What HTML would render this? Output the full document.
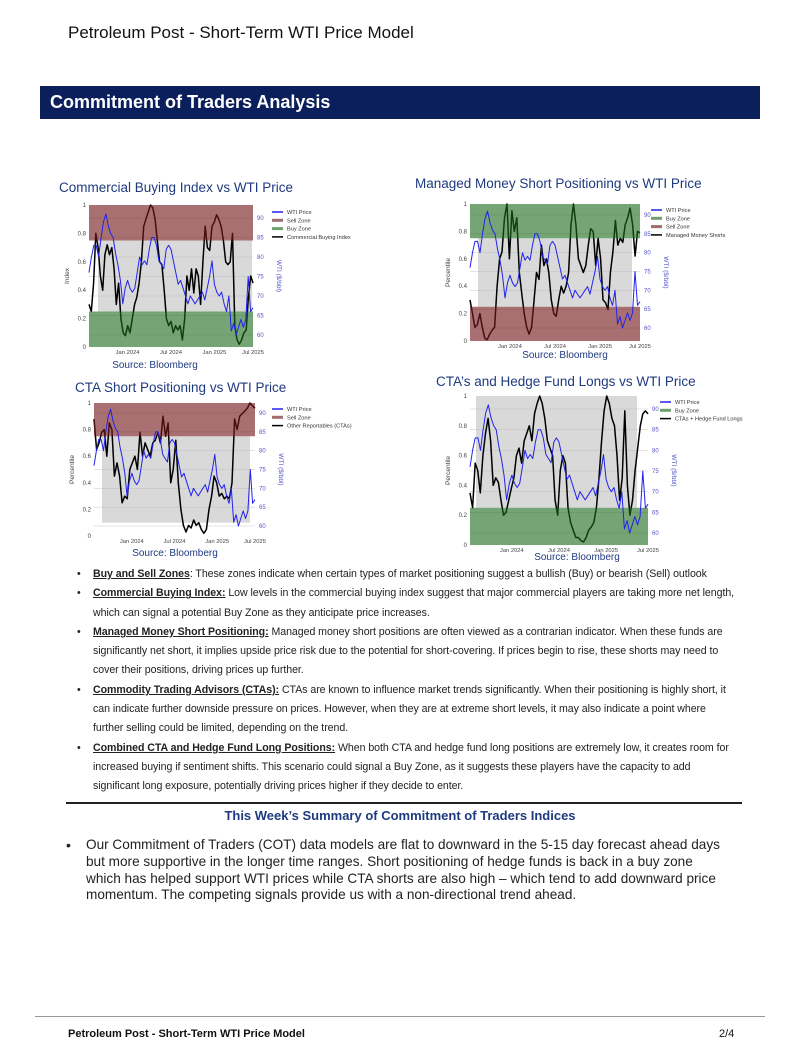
<!DOCTYPE html>
<html><head><meta charset="utf-8">
<style>
body{margin:0;background:#fff;}
#page{position:relative;width:800px;height:1064px;overflow:hidden;font-family:"Liberation Sans",sans-serif;color:#222;}
.abs{position:absolute;}
.ctitle{position:absolute;font-size:13.5px;color:#1f3a80;white-space:nowrap;}
.bul{position:absolute;left:77px;width:662px;font-family:"Liberation Sans Narrow","Liberation Sans",sans-serif;font-size:10.6px;line-height:19.3px;color:#222;letter-spacing:-0.05px;}
.bul ul{margin:0;padding:0;list-style:none;}
.bul li{margin:0 0 0 16px;padding-left:0;position:relative;}
.bul li:before{content:"•";position:absolute;left:-16px;}
.bul b{text-decoration:underline;}
</style></head>
<body>
<div id="page">
  <div class="abs" style="left:68px;top:23px;font-size:17px;color:#111;">Petroleum Post - Short-Term WTI Price Model</div>
  <div class="abs" style="left:40px;top:86px;width:720px;height:33px;background:#0a1f5c;"></div>
  <div class="abs" style="left:50px;top:92px;font-size:18px;font-weight:bold;color:#fff;">Commitment of Traders Analysis</div>

  <div class="ctitle" style="left:59px;top:180px;">Commercial Buying Index vs WTI Price</div>
  <div class="ctitle" style="left:415px;top:176px;">Managed Money Short Positioning vs WTI Price</div>
  <div class="ctitle" style="left:75px;top:380px;">CTA Short Positioning vs WTI Price</div>
  <div class="ctitle" style="left:436px;top:374px;">CTA’s and Hedge Fund Longs vs WTI Price</div>

  <svg id="charts" class="abs" style="left:0;top:0" width="800" height="570"></svg>

  <div class="bul" style="top:565px;">
    <ul>
      <li><b>Buy and Sell Zones</b>: These zones indicate when certain types of market positioning suggest a bullish (Buy) or bearish (Sell) outlook</li>
      <li><b>Commercial Buying Index:</b> Low levels in the commercial buying index suggest that major commercial players are taking more net length, which can signal a potential Buy Zone as they anticipate price increases.</li>
      <li><b>Managed Money Short Positioning:</b> Managed money short positions are often viewed as a contrarian indicator. When these funds are significantly net short, it implies upside price risk due to the potential for short-covering. If prices begin to rise, these shorts may need to cover their positions, driving prices up further.</li>
      <li><b>Commodity Trading Advisors (CTAs):</b> CTAs are known to influence market trends significantly. When their positioning is highly short, it can indicate further downside pressure on prices. However, when they are at extreme short levels, it may also indicate a point where further selling could be limited, depending on the trend.</li>
      <li><b>Combined CTA and Hedge Fund Long Positions:</b> When both CTA and hedge fund long positions are extremely low, it creates room for increased buying if sentiment shifts. This scenario could signal a Buy Zone, as it suggests these players have the capacity to add significant long exposure, potentially driving prices higher if they decide to enter.</li>
    </ul>
  </div>

  <div class="abs" style="left:66px;top:802px;width:676px;height:2px;background:#222;"></div>
  <div class="abs" style="left:0;width:800px;text-align:center;top:808px;font-size:13px;font-weight:bold;color:#1f3a80;">This Week’s Summary of Commitment of Traders Indices</div>
  <div class="abs" style="left:66px;top:837px;font-size:14px;">•</div>
  <div class="abs" style="left:86px;top:837px;width:636px;font-size:13.6px;line-height:16.8px;color:#222;">Our Commitment of Traders (COT) data models are flat to downward in the 5-15 day forecast ahead days but more supportive in the longer time ranges. Short positioning of hedge funds is back in a buy zone which has helped support WTI prices while CTA shorts are also high – which tend to add downward price momentum. The competing signals provide us with a non-directional trend ahead.</div>

  <div class="abs" style="left:35px;top:1016px;width:730px;height:1px;background:#999;"></div>
  <div class="abs" style="left:68px;top:1028px;font-size:11px;font-weight:bold;color:#111;">Petroleum Post - Short-Term WTI Price Model</div>
  <div class="abs" style="left:719px;top:1028px;font-size:11px;color:#111;">2/4</div>
</div>
<script>
const wtiPrice = [76,80,83,83,80,85,89,91,88,86,85,81,78,74,68,72,74,72,71,72,76,80,78,79,78,82,85,85,83,79,78,77,82,83,82,79,76,73,74,72,70,68,70,69,68,69,70,71,69,72,75,79,73,71,70,71,68,66,70,61,63,60,62,64,62,64,75,66,67];
const commercialIndex = [0.3,0.25,0.45,0.8,0.7,0.5,0.4,0.65,0.72,0.65,0.7,0.55,0.3,0.45,0.2,0.1,0.08,0.15,0.1,0.2,0.3,0.35,0.45,0.6,0.85,0.9,0.95,1.0,0.98,0.9,0.75,0.6,0.58,0.4,0.2,0.15,0.18,0.1,0.15,0.12,0.15,0.05,0.2,0.5,0.4,0.55,0.38,0.55,0.5,0.3,0.6,0.85,0.7,0.68,0.85,0.88,0.93,0.9,0.85,0.75,0.6,0.58,0.6,0.8,0.15,0.05,0.02,0.05,0.1,0.12,0.35,0.5,0.45];
const managedShorts = [0.3,0.2,0.1,0.12,0.2,0.1,0.02,0.01,0.05,0.08,0.1,0.4,0.6,0.65,0.9,1.0,0.6,0.95,0.8,0.9,0.5,0.35,0.2,0.1,0.05,0.1,0.3,0.5,0.45,0.7,0.55,0.6,0.5,0.3,0.2,0.18,0.3,0.4,0.35,0.4,0.5,0.85,1.0,0.85,0.6,0.55,0.5,0.55,0.7,0.82,0.8,0.55,0.75,0.6,0.3,0.28,0.23,0.5,0.65,0.88,0.7,0.75,0.72,0.85,0.9,0.97,0.85,0.62,0.8,0.79];
const ctaShorts = [0.88,0.65,0.7,0.78,0.8,0.6,0.85,0.8,0.45,0.55,0.45,0.25,0.3,0.28,0.5,0.55,0.6,0.5,0.78,0.6,0.7,0.65,0.6,0.7,0.72,0.78,0.7,0.9,0.75,0.85,0.4,0.5,0.72,0.4,0.2,0.08,0.03,0.08,0.06,0.12,0.08,0.1,0.05,0.02,0.05,0.2,0.3,0.45,0.4,0.3,0.32,0.28,0.3,0.28,0.4,0.88,0.8,0.9,0.92,0.94,0.96,1.0,0.98,0.96];
const ctaHfLongs = [0.35,0.25,0.55,0.5,0.35,0.6,0.75,0.85,0.7,0.4,0.45,0.42,0.3,0.2,0.22,0.3,0.38,0.45,0.6,0.65,0.55,0.7,0.75,0.8,0.7,0.88,0.95,1.0,0.95,0.85,0.7,0.65,0.6,0.3,0.2,0.5,0.6,0.55,0.25,0.15,0.1,0.05,0.05,0.03,0.02,0.05,0.1,0.12,0.15,0.25,0.45,0.7,0.9,1.0,0.95,0.85,0.8,0.6,0.3,0.45,0.9,0.4,0.2,0.3,0.5,0.65,0.8,0.88,0.9,0.88];
const leftTicks = [0,0.2,0.4,0.6,0.8,1];
const leftTickLabels = ["0","0.2","0.4","0.6","0.8","1"];
const rightTicks = [60,65,70,75,80,85,90];
const dateTicks = ["Jan 2024","Jul 2024","Jan 2025","Jul 2025"];
const dateTickPos = [0.235,0.5,0.765,1.0];

const NS="http://www.w3.org/2000/svg";
const svg=document.getElementById('charts');
function mk(tag,attrs,parent){const e=document.createElementNS(NS,tag);for(const k in attrs)e.setAttribute(k,attrs[k]);(parent||svg).appendChild(e);return e;}
function txt(s,attrs,parent){const e=mk('text',attrs,parent);e.textContent=s;return e;}

const charts=[
 {id:'chart1',x0:89,x1:253,yT:205,yB:347,w90:218,w60:335,gx0:98,gx1:252,gLo:0.25,top:'sell',bot:'buy',series:commercialIndex,ytitle:'Index',
  legend:['WTI Price','Sell Zone','Buy Zone','Commercial Buying Index'],lx:272,ly:212,src:[155,368]},
 {id:'chart2',x0:470,x1:640,yT:204,yB:341,w90:215,w60:328,gx0:478,gx1:632,gLo:0.25,top:'buy',bot:'sell',series:managedShorts,ytitle:'Percentile',
  legend:['WTI Price','Buy Zone','Sell Zone','Managed Money Shorts'],lx:651,ly:210,src:[565,358]},
 {id:'chart3',x0:94,x1:255,yT:403,yB:536,w90:413,w60:526,gx0:102,gx1:250,gLo:0.1,top:'sell',bot:null,series:ctaShorts,ytitle:'Percentile',
  legend:['WTI Price','Sell Zone','Other Reportables (CTAs)'],lx:272,ly:409,src:[175,556]},
 {id:'chart4',x0:470,x1:648,yT:396,yB:545,w90:409,w60:533,gx0:476,gx1:637,gLo:0.25,gHi:1,top:null,bot:'buy',series:ctaHfLongs,ytitle:'Percentile',
  legend:['WTI Price','Buy Zone','CTAs + Hedge Fund Longs'],lx:660,ly:402,src:[577,560]}
];
const zoneFill={sell:'rgba(115,25,25,0.62)',buy:'rgba(25,105,25,0.6)'};
const legendColor={'WTI Price':'#2222ee','Sell Zone':'#a06e6e','Buy Zone':'#6f9e6f'};

charts.forEach(c=>{
  const g=mk('g',{});
  
  
  const xS=t=>c.x0+(c.x1-c.x0)*t;
  const yS=v=>c.yB-(c.yB-c.yT)*v;
  const wS=p=>c.w60+(c.w90-c.w60)*(p-60)/30;
  const gHi=c.gHi||0.75;
  const gray=mk('rect',{x:c.gx0,y:yS(gHi),width:c.gx1-c.gx0,height:yS(c.gLo)-yS(gHi),fill:'#d9d9d9'},g);
  
  
  rightTicks.forEach(p=>{mk('line',{x1:c.x0,x2:c.x1,y1:wS(p),y2:wS(p),stroke:'#bbb','stroke-width':0.4},g);});
  leftTicks.forEach((v,i)=>{
    const t=txt(leftTickLabels[i],{x:c.x0-3,y:yS(v)+2,'font-size':6,'text-anchor':'end',fill:'#444'},g);
    
    
  });
  rightTicks.forEach(p=>{
    const t=txt(String(p),{x:c.x1+4,y:wS(p)+2,'font-size':6,fill:'#5555cc'},g);
    
    
  });
  dateTicks.forEach((d,i)=>{
    const t=txt(d,{x:xS(dateTickPos[i]),y:c.yB+7,'font-size':5.8,'text-anchor':'middle',fill:'#444'},g);
    
    
  });
  const n=c.series.length;
  const pts=c.series.map((v,i)=>xS(i/(n-1)).toFixed(1)+','+yS(v).toFixed(1)).join(' ');
  const pl=mk('polyline',{points:pts,fill:'none',stroke:'#000','stroke-width':1.5,'stroke-linejoin':'round'},g);
  
  
  if(c.top){const r=mk('rect',{x:c.x0,y:c.yT,width:c.x1-c.x0,height:yS(0.75)-c.yT,fill:zoneFill[c.top]},g);
    
    }
  if(c.bot){const r=mk('rect',{x:c.x0,y:yS(0.25),width:c.x1-c.x0,height:c.yB-yS(0.25),fill:zoneFill[c.bot]},g);
    
    }
  const m=wtiPrice.length;
  const wp=wtiPrice.map((p,i)=>xS(i/(m-1)).toFixed(1)+','+wS(p).toFixed(1)).join(' ');
  const wl=mk('polyline',{points:wp,fill:'none',stroke:'#2222ee','stroke-width':1,'stroke-linejoin':'round'},g);
  
  
  const yt=txt(c.ytitle,{x:0,y:0,'font-size':6.5,'text-anchor':'middle',fill:'#444',transform:`translate(${c.x0-20},${(c.yT+c.yB)/2}) rotate(-90)`},g);
  
  
  const rt=txt('WTI ($/bbl)',{x:0,y:0,'font-size':6.5,'text-anchor':'middle',fill:'#5555cc',transform:`translate(${c.x1+24},${(c.yT+c.yB)/2}) rotate(90)`},g);
  
  
  c.legend.forEach((l,i)=>{
    const y=c.ly+i*8.3;
    const col=legendColor[l]||'#000';
    const ln=mk('line',{x1:c.lx,x2:c.lx+11,y1:y,y2:y,stroke:col,'stroke-width':l.indexOf('Zone')>=0?3:1.5},g);
    
    
    const t=txt(l,{x:c.lx+15,y:y+2,'font-size':5.6,fill:'#333'},g);
    
    
  });
  const s=txt('Source: Bloomberg',{x:c.src[0],y:c.src[1],'font-size':10,'text-anchor':'middle',fill:'#1f3a80'},g);
  
  
});
</script>
</body></html>
